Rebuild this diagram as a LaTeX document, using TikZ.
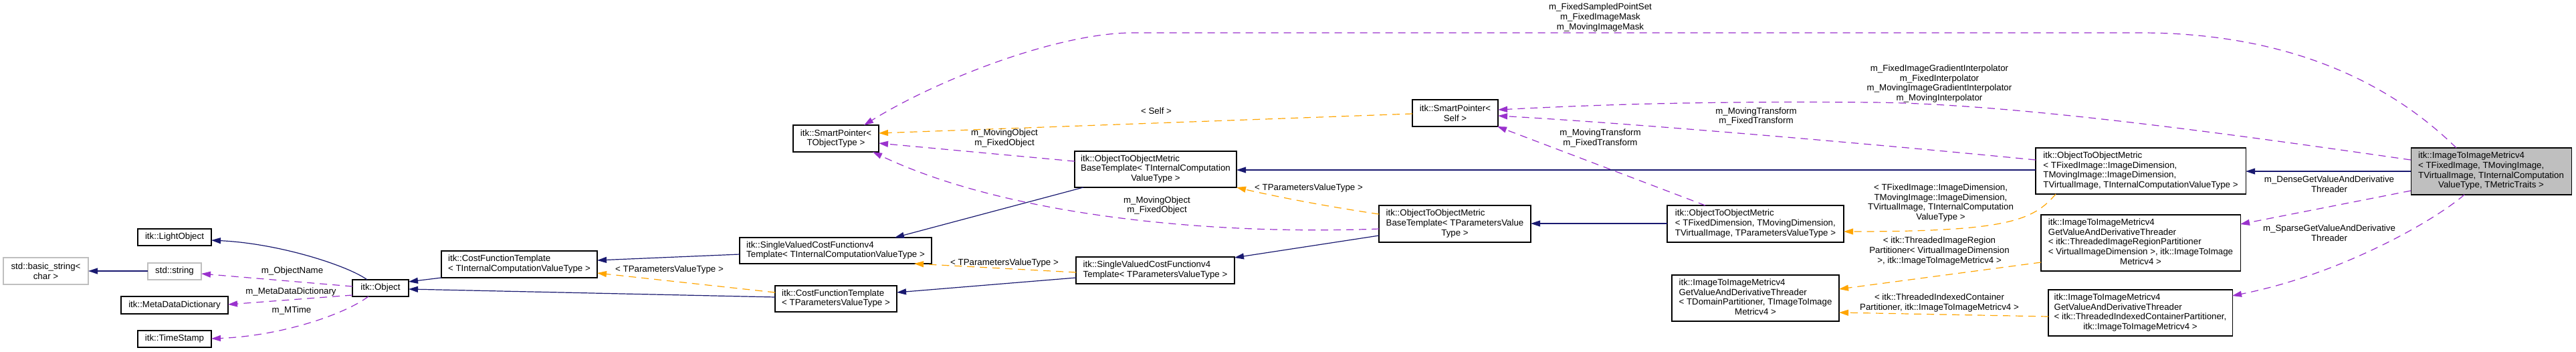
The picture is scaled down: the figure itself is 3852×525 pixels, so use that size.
\documentclass[tikz,border=0pt]{standalone}
\usepackage{fontspec}
\setmainfont{Liberation Sans}
\usetikzlibrary{arrows.meta}
\definecolor{dblue}{HTML}{191970}
\definecolor{dpurple}{HTML}{9A32CD}
\definecolor{dorange}{HTML}{FFA500}
\definecolor{lgray}{HTML}{BFBFBF}
\newcommand{\dtab}[1]{\begin{tabular}{@{}l@{}}#1\end{tabular}}
\newcommand{\dlast}[1]{\multicolumn{1}{@{}c@{}}{#1}}
\newcommand{\bx}[7][]{\node[box,#1,minimum width={(#4-#2)*0.5pt},minimum height={(#5-#3)*0.5pt}] (#6) at ({(#2+#4)/2},{(#3+#5)/2}) {#7};}
\begin{document}
\begin{tikzpicture}[x=0.5pt,y=-0.5pt,
  txt/.style={font=\fontsize{6.65}{7.35}\selectfont},
  box/.style={txt,draw=black,fill=white,line width=0.55pt,inner sep=0pt,outer sep=0pt,align=center},
  graybox/.style={draw=lgray},
  mainbox/.style={fill=lgray},
  lbl/.style={txt,inner sep=0pt,align=center},
  tip/.style={-{Triangle[length=7pt,width=4.5pt]}},
  inh/.style={draw=dblue,line width=0.6pt,tip},
  use/.style={draw=dpurple,line width=0.6pt,dash pattern=on 5.5pt off 4pt,tip},
  tmpl/.style={draw=dorange,line width=0.6pt,dash pattern=on 5.5pt off 4pt,tip}]
\fill[white] (0,0) rectangle (3852,525);
\useasboundingbox (0,0) rectangle (3852,525);

% nodes
\bx{206}{342}{316}{367}{light}{itk::LightObject}
\bx[graybox]{5}{385}{132}{425}{bstr}{std::basic\_string<\\char >}
\bx[graybox]{221}{393}{301}{418}{str}{std::string}
\bx{527}{418}{611}{443}{obj}{itk::Object}
\bx{181}{443}{341}{469}{mdd}{itk::MetaDataDictionary}
\bx{206}{494}{316}{519}{ts}{itk::TimeStamp}
\bx{1186}{187}{1314}{227}{spT}{itk::SmartPointer<\\TObjectType >}
\bx{660}{375}{893}{415}{cftI}{\dtab{itk::CostFunctionTemplate\\< TInternalComputationValueType >}}
\bx{1106}{355}{1393}{394}{svcfI}{\dtab{itk::SingleValuedCostFunctionv4\\Template< TInternalComputationValueType >}}
\bx{1159}{427}{1341}{466}{cftP}{\dtab{itk::CostFunctionTemplate\\< TParametersValueType >}}
\bx{1607}{226}{1849}{280}{otombI}{\dtab{itk::ObjectToObjectMetric\\BaseTemplate< TInternalComputation\\\dlast{ValueType >}}}
\bx{1609}{384}{1846}{424}{svcfP}{\dtab{itk::SingleValuedCostFunctionv4\\Template< TParametersValueType >}}
\bx{2112}{149}{2240}{189}{spS}{itk::SmartPointer<\\Self >}
\bx{2062}{307}{2289}{362}{otombP}{\dtab{itk::ObjectToObjectMetric\\BaseTemplate< TParametersValue\\\dlast{Type >}}}
\bx{2493}{307}{2757}{362}{otomD}{\dtab{itk::ObjectToObjectMetric\\< TFixedDimension, TMovingDimension,\\\dlast{TVirtualImage, TParametersValueType >}}}
\bx{2500}{411}{2750}{480}{thrTD}{\dtab{itk::ImageToImageMetricv4\\GetValueAndDerivativeThreader\\< TDomainPartitioner, TImageToImage\\\dlast{Metricv4 >}}}
\bx{3044}{221}{3358}{290}{otomI}{\dtab{itk::ObjectToObjectMetric\\< TFixedImage::ImageDimension,\\TMovingImage::ImageDimension,\\\dlast{TVirtualImage, TInternalComputationValueType >}}}
\bx{3052}{321}{3350}{405}{thrR}{\dtab{itk::ImageToImageMetricv4\\GetValueAndDerivativeThreader\\< itk::ThreadedImageRegionPartitioner\\< VirtualImageDimension >, itk::ImageToImage\\\dlast{Metricv4 >}}}
\bx{3063}{433}{3338}{502}{thrI}{\dtab{itk::ImageToImageMetricv4\\GetValueAndDerivativeThreader\\< itk::ThreadedIndexedContainerPartitioner,\\\dlast{itk::ImageToImageMetricv4 >}}}
\bx[mainbox]{3605}{221}{3845}{291}{main}{\dtab{itk::ImageToImageMetricv4\\< TFixedImage, TMovingImage,\\TVirtualImage, TInternalComputation\\\dlast{ValueType, TMetricTraits >}}}

% connectors
\draw[inh] (obj.north -| 549,0) .. controls (522,398) and (420,364) .. (light.east |- 0,359);
\draw[inh] (str.west |- 0,405) -- (bstr.east |- 0,405);
\draw[use] (obj.west |- 0,428) -- (str.east |- 0,409);
\draw[use] (obj.west |- 0,441) -- (mdd.east |- 0,455);
\draw[use] (obj.south -| 551,0) .. controls (515,470) and (420,502) .. (ts.east |- 0,506);
\draw[inh] (cftI.south west) -- (obj.east |- 0,421);
\draw[inh] (cftP.west |- 0,444) -- (obj.east |- 0,432);
\draw[inh] (svcfI.west |- 0,380) -- (cftI.east |- 0,389);
\draw[tmpl] (cftP.west |- 0,437) -- (cftI.east |- 0,408);
\draw[inh] (otombI.south -| 1620,0) -- (svcfI.north -| 1338,0);
\draw[tmpl] (svcfP.west |- 0,407) -- (svcfI.south -| 1367,0);
\draw[inh] (svcfP.west |- 0,415) -- (cftP.east |- 0,437);
\draw[inh] (otombP.west |- 0,352) -- (svcfP.east |- 0,385);
\draw[tmpl] (otombP.west |- 0,320) .. controls (1980,308) and (1900,292) .. (otombI.south east);
\draw[use] (otombI.west |- 0,241) -- (spT.east |- 0,214);
\draw[use] (otombP.west |- 0,342) .. controls (1800,352) and (1500,320) .. (spT.south -| 1305,0);
\draw[tmpl] (spS.west |- 0,170) -- (spT.east |- 0,199);
\coordinate (topR) at (3200,49);
\coordinate (topL) at (1695,49);
\draw[use] (main.north -| 3673,0) .. controls (3560,110) and (3400,49) .. (topR) -- (topL) .. controls (1580,49) and (1400,120) .. (spT.north -| 1292,0);
\coordinate (ipM) at (2800,153);
\draw[use] (main.west |- 0,239) .. controls (3300,195) and (3000,155) .. (ipM) .. controls (2550,151) and (2400,156) .. (spS.east |- 0,164);
\draw[use] (otomI.west |- 0,239) .. controls (2800,215) and (2450,185) .. (spS.east |- 0,173);
\draw[use] (otomD.north -| 2550,0) -- (spS.south -| 2239,0);
\draw[inh] (otomI.west |- 0,254) -- (otombI.east |- 0,254);
\draw[inh] (otomD.west |- 0,334) -- (otombP.east |- 0,334);
\draw[tmpl] (otomI.south -| 3074,0) .. controls (3040,330) and (3000,346) .. (otomD.east |- 0,346);
\draw[tmpl] (thrR.west |- 0,392) -- (thrTD.east |- 0,432);
\draw[tmpl] (thrI.west |- 0,473) -- (thrTD.east |- 0,467);
\draw[inh] (main.west |- 0,256) -- (otomI.east |- 0,256);
\draw[use] (main.west |- 0,285) -- (thrR.east |- 0,335);
\draw[use] (main.south -| 3685,0) .. controls (3640,330) and (3500,410) .. (thrI.east |- 0,442);

% labels
\node[lbl] (lObjName) at (437,405) {m\_ObjectName};
\node[lbl] (lMDD) at (435,436) {m\_MetaDataDictionary};
\node[lbl] (lMTime) at (436,464) {m\_MTime};
\node[lbl] (lTP1) at (1001,403) {< TParametersValueType >};
\node[lbl] (lTP2) at (1502,393) {< TParametersValueType >};
\node[lbl] (lTP3) at (1957,281) {< TParametersValueType >};
\node[lbl] (lSelf) at (1729,166) {< Self >};
\node[lbl] (lObj1) at (1502,206.5) {m\_MovingObject\\m\_FixedObject};
\node[lbl] (lObj2) at (1730,307) {m\_MovingObject\\m\_FixedObject};
\node[lbl] (lTop) at (2393,26) {m\_FixedSampledPointSet\\m\_FixedImageMask\\m\_MovingImageMask};
\node[lbl] (lTr1) at (2393,206.5) {m\_MovingTransform\\m\_FixedTransform};
\node[lbl] (lTr2) at (2626,174) {m\_MovingTransform\\m\_FixedTransform};
\node[lbl] (lInterp) at (2900,125) {m\_FixedImageGradientInterpolator\\m\_FixedInterpolator\\m\_MovingImageGradientInterpolator\\m\_MovingInterpolator};
\node[lbl] (lTFI) at (2902,303) {< TFixedImage::ImageDimension,\\TMovingImage::ImageDimension,\\TVirtualImage, TInternalComputation\\ValueType >};
\node[lbl] (lRegion) at (2900,375) {< itk::ThreadedImageRegion\\Partitioner< VirtualImageDimension\\>, itk::ImageToImageMetricv4 >};
\node[lbl] (lIndexed) at (2900,452.5) {< itk::ThreadedIndexedContainer\\Partitioner, itk::ImageToImageMetricv4 >};
\node[lbl] (lDense) at (3483,275) {m\_DenseGetValueAndDerivative\\Threader};
\node[lbl] (lSparse) at (3483,348) {m\_SparseGetValueAndDerivative\\Threader};
\end{tikzpicture}
\end{document}
